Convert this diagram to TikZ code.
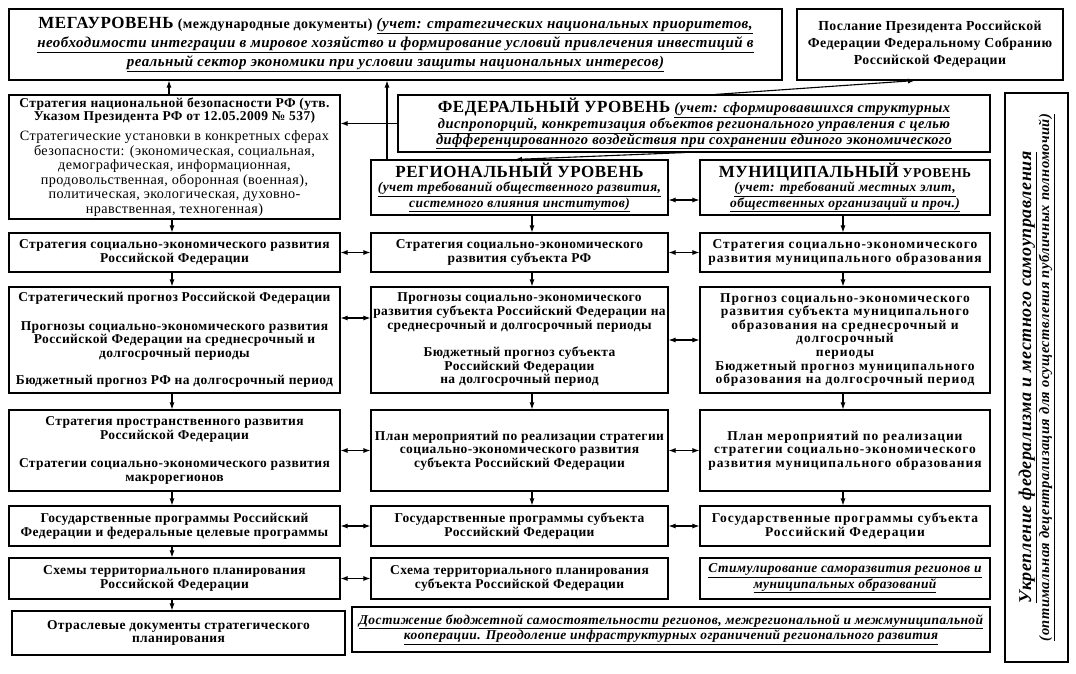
\documentclass[tikz,border=0pt]{standalone}
\usepackage{fontspec}
\setmainfont[LetterSpace=3]{Liberation Serif}
\newfontfamily\widefont[LetterSpace=7]{Liberation Serif}
\usetikzlibrary{arrows.meta,calc}
\newcommand{\uitl}[1]{{\bfseries\itshape\underline{#1}}}
\newcommand{\hdr}[1]{{\fontsize{17}{18}\selectfont\bfseries #1}}
\newcommand{\rg}[1]{{\mdseries\fontsize{14.2}{14.6}\selectfont #1}}

\begin{document}
\begin{tikzpicture}[x=1pt,y=-1pt,>={Latex[length=7pt,width=5pt]},line width=1.1pt,
  box/.style={draw,align=center,inner sep=1pt,font=\bfseries\fontsize{13.5}{13.6}\selectfont},
  munbox/.style={box,font=\widefont\bfseries\fontsize{13.5}{13.6}\selectfont}]
    \useasboundingbox (0,0) rectangle (1076,674);
    % upper levels
    \node[box,minimum width=773pt,minimum height=71pt,font=\bfseries\fontsize{15}{19}\selectfont] (mega) at (395.5,44.5)
        {\hdr{МЕГАУРОВЕНЬ} {\fontsize{14}{19}\selectfont(международные документы)} \uitl{(учет: стратегических национальных приоритетов,}\\
         \uitl{необходимости интеграции в мировое хозяйство и формирование условий привлечения инвестиций в}\\
         \uitl{реальный сектор экономики при условии защиты национальных интересов)}};
    \node[box,minimum width=266pt,minimum height=71pt,font=\bfseries\fontsize{13.8}{17}\selectfont] (poslanie) at (930,44.5)
        {Послание Президента Российской\\Федерации Федеральному Собранию\\Российской Федерации};
    \node[box,minimum width=331pt,minimum height=124pt] (natsec) at (174.5,157)
        {Стратегия национальной безопасности РФ (утв.\\Указом Президента РФ от 12.05.2009 № 537)\\[6pt]
         \rg{Стратегические установки в конкретных сферах}\\[1pt]\rg{безопасности: (экономическая, социальная,}\\[1pt]
         \rg{демографическая, информационная,}\\[1pt]\rg{продовольственная, оборонная (военная),}\\[1pt]
         \rg{политическая, экологическая, духовно-}\\[1pt]\rg{нравственная, техногенная)}};
    \node[box,minimum width=592pt,minimum height=57pt,font=\bfseries\fontsize{14.5}{16}\selectfont] (fed) at (694,123.5)
        {\hdr{ФЕДЕРАЛЬНЫЙ УРОВЕНЬ} \uitl{(учет: сформировавшихся структурных}\\
         \uitl{диспропорций, конкретизация объектов регионального управления с целью}\\
         \uitl{дифференцированного воздействия при сохранении единого экономического}};
    \node[box,minimum width=297pt,minimum height=55pt] (reg) at (519.5,187.5)
        {\hdr{РЕГИОНАЛЬНЫЙ УРОВЕНЬ}\\[1pt]\uitl{(учет требований общественного развития,}\\\uitl{системного влияния институтов)}};
    \node[box,minimum width=290pt,minimum height=55pt] (mun) at (845,187.5)
        {\hdr{МУНИЦИПАЛЬНЫЙ} УРОВЕНЬ\\[1pt]\uitl{(учет: требований местных элит,}\\\uitl{общественных организаций и проч.)}};
    \node[box,rotate=90,minimum width=569pt,minimum height=63pt,font=\bfseries\fontsize{14.5}{18}\selectfont] (side) at (1036.5,377.5)
        {{\fontsize{18}{20}\selectfont\uitl{Укрепление федерализма и местного самоуправления}}\\
         \uitl{(оптимальная децентрализация для осуществления публичных полномочий)}};
    % federal column
    \node[box,minimum width=331pt,minimum height=39pt] (l1) at (174.5,252.5)
        {Стратегия социально-экономического развития\\Российской Федерации};
    \node[box,minimum width=331pt,minimum height=106pt] (l2) at (174.5,340)
        {Стратегический прогноз Российской Федерации\\[15pt]
         Прогнозы социально-экономического развития\\Российской Федерации на среднесрочный и\\долгосрочный периоды\\[14pt]
         Бюджетный прогноз РФ на долгосрочный период};
    \node[box,minimum width=331pt,minimum height=81pt] (l3) at (174.5,450.5)
        {Стратегия пространственного развития\\Российской Федерации\\[15pt]
         Стратегии социально-экономического развития\\макрорегионов};
    \node[box,minimum width=331pt,minimum height=40pt] (l4) at (174.5,526)
        {Государственные программы Российский\\Федерации и федеральные целевые программы};
    \node[box,minimum width=331pt,minimum height=41pt] (l5) at (174.5,578.5)
        {Схемы территориального планирования\\Российской Федерации};
    \node[box,minimum width=333pt,minimum height=44pt] (l6) at (178.5,633)
        {Отраслевые документы стратегического\\планирования};
    % regional column
    \node[box,minimum width=297pt,minimum height=39pt] (m1) at (519.5,252.5)
        {Стратегия социально-экономического\\развития субъекта РФ};
    \node[box,minimum width=297pt,minimum height=106pt] (m2) at (519.5,340)
        {Прогнозы социально-экономического\\развития субъекта Российский Федерации на\\среднесрочный и долгосрочный периоды\\[14pt]
         Бюджетный прогноз субъекта\\Российский Федерации\\на долгосрочный период};
    \node[box,minimum width=297pt,minimum height=81pt] (m3) at (519.5,450.5)
        {План мероприятий по реализации стратегии\\социально-экономического развития\\субъекта Российский Федерации};
    \node[box,minimum width=297pt,minimum height=40pt] (m4) at (519.5,526)
        {Государственные программы субъекта\\Российский Федерации};
    \node[box,minimum width=297pt,minimum height=41pt] (m5) at (519.5,578.5)
        {Схема территориального планирования\\субъекта Российской Федерации};
    % municipal column
    \node[munbox,minimum width=290pt,minimum height=39pt] (r1) at (845,252.5)
        {Стратегия социально-экономического\\развития муниципального образования};
    \node[munbox,minimum width=290pt,minimum height=106pt] (r2) at (845,340)
        {Прогноз социально-экономического\\развития субъекта муниципального\\образования на среднесрочный и\\долгосрочный\\периоды\\
         Бюджетный прогноз муниципального\\образования на долгосрочный период};
    \node[munbox,minimum width=290pt,minimum height=81pt] (r3) at (845,450.5)
        {План мероприятий по реализации\\стратегии социально-экономического\\развития муниципального образования};
    \node[munbox,minimum width=290pt,minimum height=40pt] (r4) at (845,526)
        {Государственные программы субъекта\\Российский Федерации};
    \node[box,minimum width=290pt,minimum height=41pt] (r5) at (845,578.5)
        {\uitl{Стимулирование саморазвития регионов и}\\\uitl{муниципальных образований}};
    \node[box,minimum width=638pt,minimum height=45pt] (dost) at (671,629.5)
        {\uitl{Достижение бюджетной самостоятельности регионов, межрегиональной и межмуниципальной}\\
         \uitl{кооперации. Преодоление инфраструктурных ограничений регионального развития}};
    % connectors
    \coordinate (cl) at (172,0);
    \coordinate (cm) at (532,0);
    \coordinate (cr) at (843,0);
    \coordinate (cu) at (169,0);
    \coordinate (cv) at (387,0);
    \coordinate (fp) at (715,0);
    \coordinate (pp) at (915,0);
    \coordinate (fr) at (685,0);
    \coordinate (rf) at (515,0);
    \draw[->](natsec.north -| cu)--(mega.south -| cu);
    \draw[->](reg.north -| cv)--(mega.south -| cv);
    \draw[->](fed.west)--(fed.west -| natsec.east);
    \draw[->](fed.north -| fp)--(poslanie.south -| pp);
    \draw[->](fed.south -| fr)--(reg.north -| rf);
    \foreach \a/\b in {natsec/l1,l1/l2,l2/l3,l3/l4,l4/l5,l5/l6}
        \draw[->](\a.south -| cl)--(\b.north -| cl);
    \foreach \a/\b in {reg/m1,m1/m2,m2/m3,m3/m4}
        \draw[->](\a.south -| cm)--(\b.north -| cm);
    \foreach \a/\b in {mun/r1,r1/r2,r2/r3,r3/r4}
        \draw[->](\a.south -| cr)--(\b.north -| cr);
    \foreach \a/\b in {l1/m1,l3/m3,l4/m4,l5/m5,m1/r1,m2/r2,m3/r3,m4/r4}
        \draw[<->](\a.east)--(\a.east -| \b.west);
    \draw[<->]([yshift=22pt]l2.east)coordinate(t)--(t -| m2.west);
    \draw[<->]([yshift=-12.5pt]reg.east)coordinate(s)--(s -| mun.west);
\end{tikzpicture}
\end{document}
